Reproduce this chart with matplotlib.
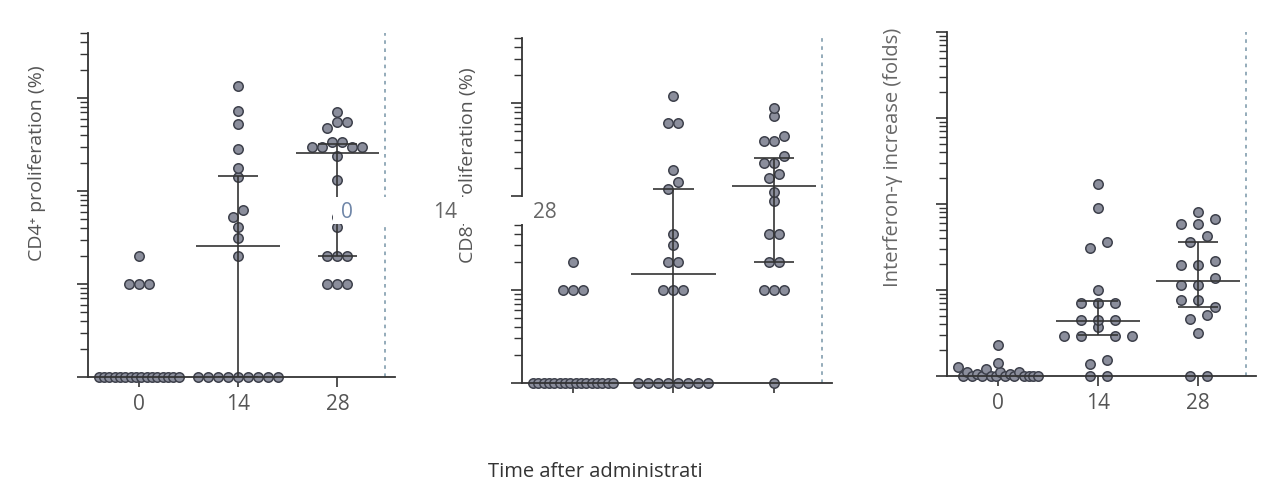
import numpy as np
import matplotlib.pyplot as plt
import matplotlib.ticker as mticker
from matplotlib.patches import Rectangle

plt.rcParams['font.family'] = ['Open Sans', 'DejaVu Sans']

days = ['0', '14', '28']
ZERO = 0.1  # undetectable values sit on the floor of the log axis

# CD4+ proliferation (%)
cd4_d0 = [ZERO] * 16 + [1.0, 1.0, 1.0, 2.0]
cd4_d14 = [ZERO] * 9 + [2.0, 3.1, 4.15, 5.2, 6.3, 14.3, 17.7, 28, 53, 73, 133]
cd4_d28 = [1.0, 1.0, 1.0, 2.0, 2.0, 2.0, 4.15, 5.2, 13.2, 24, 30, 30, 34, 34,
           30, 30, 48, 55, 55, 70]
cd4_median = [None, 2.57, 25.6]
cd4_low = [None, ZERO, 2.0]
cd4_high = [None, 14.5, 32]

# CD8+ proliferation (%)
cd8_d0 = [ZERO] * 16 + [1.0, 1.0, 1.0, 2.0]
cd8_d14 = [ZERO] * 8 + [1.0, 1.0, 1.0, 2.0, 2.0, 3.0, 4.0, 12, 14.3, 19, 61, 61, 119]
cd8_d28 = [ZERO, 1.0, 1.0, 1.0, 2.0, 2.0, 4.0, 4.0, 9.0, 11.2, 15.6, 17.5, 23, 23,
           27, 39, 39, 45, 72, 89]
cd8_median = [None, 1.48, 13]
cd8_low = [None, ZERO, 2.0]
cd8_high = [None, 12, 26]

# interferon-gamma increase (folds)
ifn_d0 = [0.126, ZERO, 0.11, ZERO, 0.105, ZERO, 0.12, ZERO, ZERO, 0.11, ZERO,
          0.105, ZERO, 0.11, ZERO, ZERO, ZERO, 0.14, 0.23, ZERO]
ifn_d14 = [ZERO, ZERO, 0.137, 0.153, 0.29, 0.29, 0.37, 0.29, 0.29, 0.45, 0.45, 0.45,
           0.71, 0.71, 0.71, 1.0, 3.05, 3.6, 9.0, 17.1]
ifn_d28 = [ZERO, ZERO, 0.32, 0.46, 0.51, 0.76, 0.76, 0.63, 1.15, 1.15, 1.38, 1.95,
           1.95, 2.2, 3.6, 4.3, 5.9, 5.9, 6.7, 8.0]
ifn_median = [None, 0.44, 1.27]
ifn_low = [None, 0.30, 0.63]
ifn_high = [None, 0.75, 3.6]

ink = '#343434'
face = '#8b8e9c'
edge = '#3e414c'


def swarm(ax, pos, values, gap, row_h, max_w=80):
    # spread points that share a row, GraphPad style (pixel units)
    vals = np.asarray(values, float)
    pts = ax.transData.transform(np.column_stack([np.full(len(vals), pos), vals]))
    ypix = pts[:, 1]
    x0 = pts[0, 0]
    rows = []
    for i in np.argsort(ypix, kind='stable'):
        if rows and ypix[i] - ypix[rows[-1][0]] < row_h:
            rows[-1].append(i)
        else:
            rows.append([i])
    xs = np.empty(len(vals))
    for row in rows:
        row = sorted(row)
        n = len(row)
        step = gap if n < 2 else min(gap, max_w / (n - 1))
        for k, i in enumerate(row):
            xs[i] = x0 + (k - (n - 1) / 2) * step
    return ax.transData.inverted().transform(np.column_stack([xs, ypix]))[:, 0]


def panel(rect, groups, median, low, high, ylim, gap, row_h, ticklabels=True):
    ax = fig.add_axes(rect)
    ax.set_yscale('log')
    ax.set_ylim(ylim)
    ax.set_xlim(-0.51, 2.58)
    ax.yaxis.set_major_locator(mticker.LogLocator(base=10))
    ax.yaxis.set_minor_locator(mticker.LogLocator(base=10, subs=np.arange(2, 10)))
    ax.yaxis.set_major_formatter(mticker.NullFormatter())
    ax.yaxis.set_minor_formatter(mticker.NullFormatter())
    ax.set_xticks(range(len(days)))
    ax.set_xticklabels(days if ticklabels else [])
    for s in ['top', 'right']:
        ax.spines[s].set_visible(False)
    for s in ['left', 'bottom']:
        ax.spines[s].set_color(ink)
        ax.spines[s].set_linewidth(1.3)
    ax.tick_params(axis='y', which='major', length=8, width=1.2, color=ink)
    ax.tick_params(axis='y', which='minor', length=5.5, width=1.0, color=ink)
    ax.tick_params(axis='x', length=7, width=1.2, color=ink, labelsize=15,
                   labelcolor='#555555', pad=5)
    for i, vals in enumerate(groups):
        xs = swarm(ax, i, vals, gap, row_h)
        ax.plot(xs, vals, 'o', ms=6.8, mfc=face, mec=edge, mew=1.1,
                clip_on=False, zorder=2)
        if median[i] is not None:
            ax.hlines(median[i], i - 0.42, i + 0.42, color=ink, lw=1.2, zorder=3)
        if low[i] is not None:
            ax.vlines(i, low[i], high[i], color=ink, lw=1.2, zorder=3)
            ax.hlines([low[i], high[i]], i - 0.2, i + 0.2, color=ink, lw=1.2, zorder=3)
    ax.axvline(2.48, color='#8ba5b4', lw=1.3, ls=(0, (2, 2.5)), zorder=1)
    return ax


fig = plt.figure(figsize=(12.63, 4.87), dpi=100)

ax1 = panel([0.0697, 0.2259, 0.2431, 0.7064], [cd4_d0, cd4_d14, cd4_d28],
            cd4_median, cd4_low, cd4_high, (0.1, 500), 10, 8)
ax2 = panel([0.4133, 0.2136, 0.2454, 0.7084], [cd8_d0, cd8_d14, cd8_d28],
            cd8_median, cd8_low, cd8_high, (0.1, 500), 10, 8, ticklabels=False)
ax3 = panel([0.7498, 0.2279, 0.2447, 0.7064], [ifn_d0, ifn_d14, ifn_d28],
            ifn_median, ifn_low, ifn_high, (0.1, 1000), 17, 10)

W, H = 1263.0, 487.0
fig.text(37 / W, 1 - 163 / H, 'CD4⁺ proliferation (%)', rotation=90,
         ha='center', va='center', fontsize=14, color='#555555')
fig.text(468 / W, 1 - 165 / H, 'CD8⁺ proliferation (%)', rotation=90,
         ha='center', va='center', fontsize=14, color='#555555')
fig.text(893 / W, 1 - 157 / H, 'Interferon-γ increase (folds)', rotation=90,
         ha='center', va='center', fontsize=14.5, color='#666666')

# pasted strip with misplaced tick labels
fig.patches.append(Rectangle((333 / W, 1 - 224 / H), 232 / W, 27 / H,
                             transform=fig.transFigure, facecolor='white',
                             edgecolor='none', zorder=10))
fig.text(347 / W, 1 - 213 / H, '0', ha='center', va='center', fontsize=15,
         color='#6f86a8', zorder=11)
fig.text(445 / W, 1 - 212 / H, '14', ha='center', va='center', fontsize=15,
         color='#666666', zorder=11)
fig.text(545 / W, 1 - 212 / H, '28', ha='center', va='center', fontsize=15,
         color='#666666', zorder=11)

fig.text(488 / W, 1 - 472 / H, 'Time after administrati', ha='left', va='center',
         fontsize=14.5, color='#333333')

fig.savefig('out.png', dpi=100, facecolor='white')
